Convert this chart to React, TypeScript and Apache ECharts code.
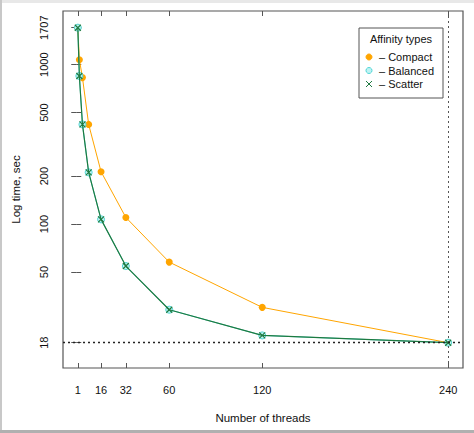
import React, { useEffect, useRef } from "react";
import * as echarts from "echarts";

const threads = [1, 2, 4, 8, 16, 32, 60, 120, 240];
const compactTimes = [1707, 1075, 830, 422, 213, 110, 57.7, 30, 18];
const balancedTimes = [1707, 850, 422, 211, 107, 54.5, 29, 20, 18];
const scatterTimes = [1707, 850, 422, 211, 107, 54.5, 29, 20, 18];
const xTickValues = [1, 16, 32, 60, 120, 240];
const yTickValues = [18, 50, 100, 200, 500, 1000, 1707];
const seriesNames = ["Compact", "Balanced", "Scatter"];
const legendTitle = "Affinity types";
const xTitle = "Number of threads";
const yTitle = "Log time, sec";
const refThreads = 240;
const refTime = 18;

const FONT = "Liberation Sans, Arial, Helvetica, sans-serif";
const ORANGE = "#FFA500";
const CYAN_FILL = "#bff3f3";
const CYAN = "#4fd6d6";
const GREEN = "#1d7a40";
const X_PATH = "path://M0,0L10,10M10,0L0,10";

export default function App() {
  const ref = useRef<HTMLDivElement>(null);
  useEffect(() => {
    if (!ref.current) return;
    const chart = echarts.init(ref.current, undefined, { renderer: "svg" });
    const pairs = (vals: number[]) => threads.map((t, i) => [t, vals[i]]);
    const tickStyle = { inside: true, length: 5, lineStyle: { color: "#555", width: 1 } };
    const labelStyle = { color: "#111", fontSize: 11, fontFamily: FONT, formatter: (v: number) => String(v) };
    const nameStyle = { color: "#111", fontSize: 11.5, fontFamily: FONT };

    const lx = 359, ly = 28, lw = 84, lh = 70;
    const rowY = [57, 70.5, 84];
    const symX = 369;
    const legendChildren: any[] = [
      { type: "rect", shape: { x: lx, y: ly, width: lw, height: lh }, style: { fill: "#fff", stroke: "#555", lineWidth: 1 } },
      { type: "text", x: lx + lw / 2, y: 39, style: { text: legendTitle, fill: "#111", font: `11px ${FONT}`, align: "center", verticalAlign: "middle" } },
      { type: "circle", shape: { cx: symX, cy: rowY[0], r: 3 }, style: { fill: ORANGE, stroke: ORANGE } },
      { type: "circle", shape: { cx: symX, cy: rowY[1], r: 3 }, style: { fill: CYAN_FILL, stroke: CYAN, lineWidth: 1 } },
      { type: "line", shape: { x1: symX - 3, y1: rowY[2] - 3, x2: symX + 3, y2: rowY[2] + 3 }, style: { stroke: GREEN, lineWidth: 1 } },
      { type: "line", shape: { x1: symX - 3, y1: rowY[2] + 3, x2: symX + 3, y2: rowY[2] - 3 }, style: { stroke: GREEN, lineWidth: 1 } },
    ];
    seriesNames.forEach((n, i) => {
      legendChildren.push({
        type: "text", x: 379, y: rowY[i],
        style: { text: "\u2013 " + n, fill: "#111", font: `11px ${FONT}`, align: "left", verticalAlign: "middle" },
      });
    });

    chart.setOption({
      animation: false,
      backgroundColor: "#fff",
      grid: { left: 63, right: 11, top: 11, bottom: 65, show: true, borderColor: "#555", borderWidth: 1.2, backgroundColor: "transparent" },
      xAxis: [
        {
          type: "value", position: "bottom", min: -8.56, max: 249.56,
          axisLine: { show: false }, splitLine: { show: false },
          axisTick: { ...tickStyle, customValues: xTickValues },
          axisLabel: { ...labelStyle, margin: 16, customValues: xTickValues },
          name: xTitle, nameLocation: "middle", nameGap: 44, nameTextStyle: nameStyle,
        },
        {
          type: "value", position: "top", min: -8.56, max: 249.56,
          axisLine: { show: false }, splitLine: { show: false },
          axisTick: { ...tickStyle, customValues: xTickValues },
          axisLabel: { show: false },
        },
      ],
      yAxis: [
        {
          type: "log", logBase: 10, position: "left", min: 12.49, max: 2173,
          axisLine: { show: false }, splitLine: { show: false },
          axisTick: { ...tickStyle, customValues: yTickValues },
          axisLabel: { ...labelStyle, rotate: 90, margin: 14, customValues: yTickValues },
          name: yTitle, nameLocation: "middle", nameGap: 41, nameRotate: 90, nameTextStyle: nameStyle,
        },
        {
          type: "log", logBase: 10, position: "right", min: 12.49, max: 2173,
          axisLine: { show: false }, splitLine: { show: false },
          axisTick: { ...tickStyle, customValues: yTickValues },
          axisLabel: { show: false },
        },
      ],
      series: [
        {
          name: seriesNames[0], type: "line", data: pairs(compactTimes),
          symbol: "circle", symbolSize: 7,
          itemStyle: { color: ORANGE },
          lineStyle: { color: ORANGE, width: 1 },
          z: 2,
        },
        {
          name: seriesNames[1], type: "line", data: pairs(balancedTimes),
          symbol: "circle", symbolSize: 7,
          itemStyle: { color: CYAN_FILL, borderColor: CYAN, borderWidth: 1 },
          lineStyle: { color: CYAN, width: 1 },
          z: 3,
        },
        {
          name: seriesNames[2], type: "line", data: pairs(scatterTimes),
          symbol: X_PATH, symbolSize: 6,
          itemStyle: { color: GREEN, borderColor: GREEN, borderWidth: 1.2 },
          lineStyle: { color: GREEN, width: 1.2 },
          z: 4,
          markLine: {
            silent: true, symbol: ["none", "none"], label: { show: false },
            data: [
              { xAxis: refThreads, lineStyle: { color: "#555", type: [2, 3], width: 1 } },
              { yAxis: refTime, lineStyle: { color: "#222", type: [2, 3], width: 1.3 } },
            ],
          },
        },
      ],
      graphic: [
        { type: "rect", shape: { x: 0, y: 0, width: 474, height: 3 }, style: { fill: "#e8e8e8" }, silent: true },
        { type: "rect", shape: { x: 0, y: 0, width: 2, height: 433 }, style: { fill: "#c8c8c8" }, silent: true },
        { type: "rect", shape: { x: 0, y: 430, width: 474, height: 3 }, style: { fill: "#b0b0b0" }, silent: true },
        { type: "group", children: legendChildren, z: 100 },
      ],
    });
    return () => chart.dispose();
  }, []);
  return <div ref={ref} style={{ position: "absolute", left: 0, top: 0, width: 474, height: 433, background: "#fff" }} />;
}
